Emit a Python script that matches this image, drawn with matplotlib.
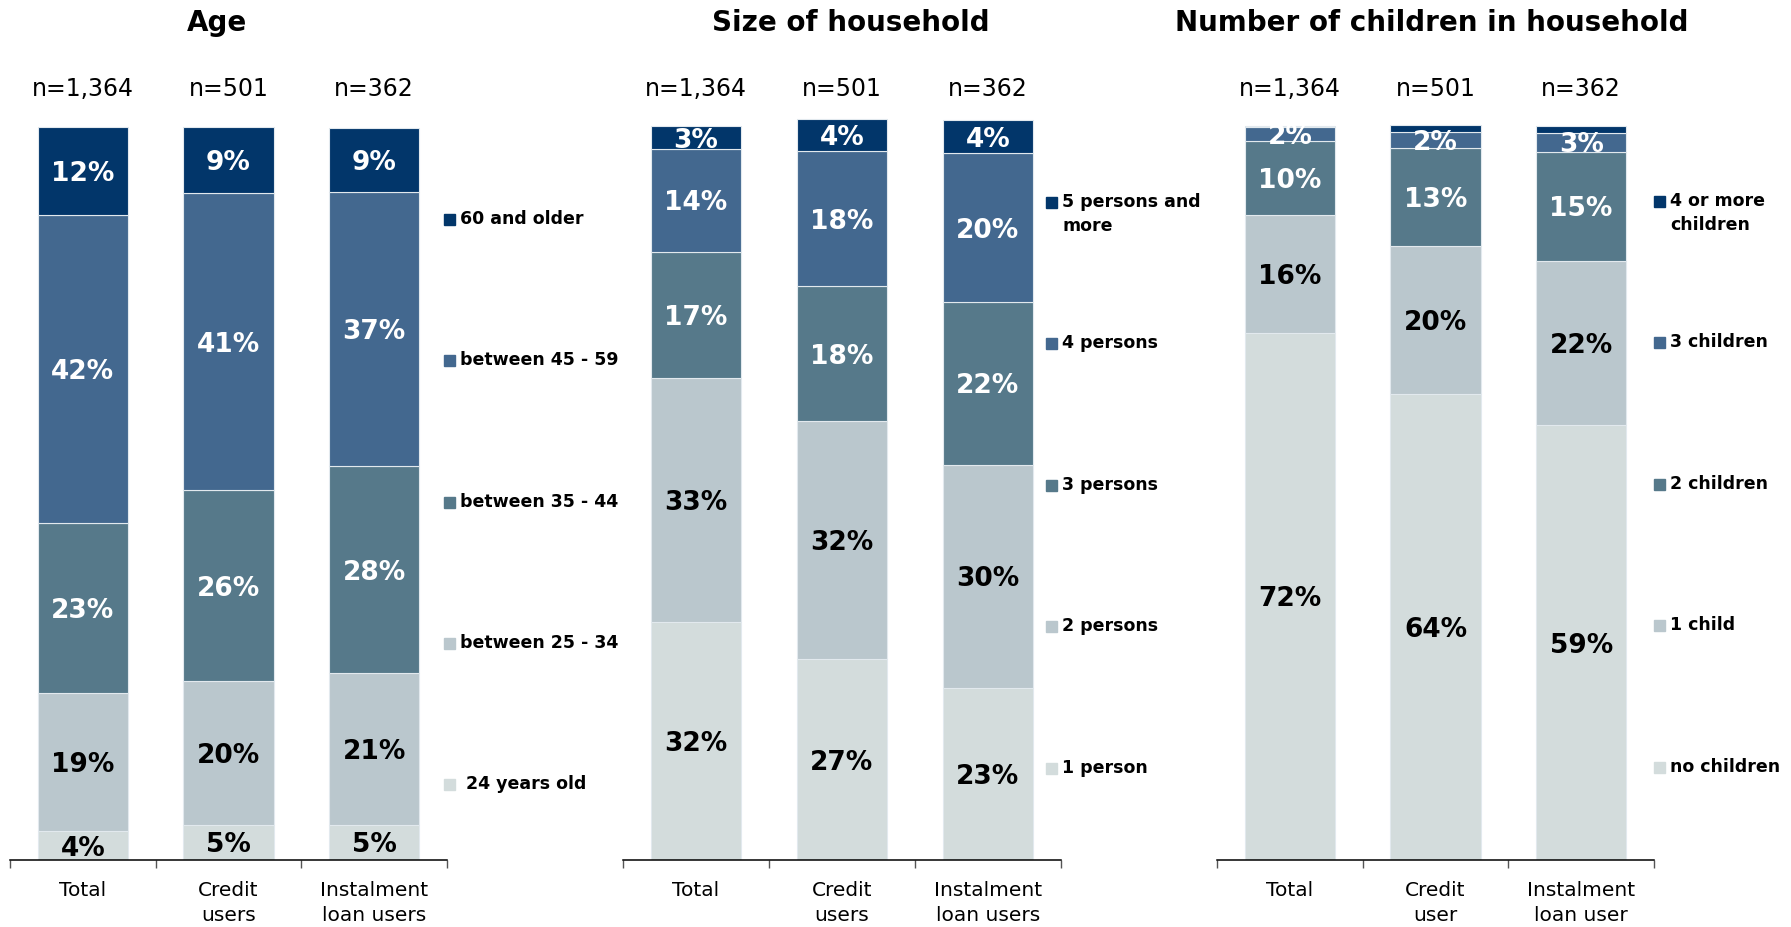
import matplotlib.pyplot as plt
from matplotlib.patches import Rectangle

# figure size in pixels
W, H = 1791, 927

# ---------------- data (percent, stacked bottom -> top)
groups_users = ["Total", "Credit\nusers", "Instalment\nloan users"]
groups_user = ["Total", "Credit\nuser", "Instalment\nloan user"]
n_labels = ["n=1,364", "n=501", "n=362"]

age_cats = [" 24 years old", "between 25 - 34", "between 35 - 44",
            "between 45 - 59", "60 and older"]
age_total = [3.9, 18.9, 23.1, 42.1, 12.0]
age_credit = [4.8, 19.6, 26.0, 40.6, 9.0]
age_instal = [4.8, 20.7, 28.2, 37.4, 8.7]

hh_cats = ["1 person", "2 persons", "3 persons", "4 persons",
           "5 persons and\nmore"]
hh_total = [32.4, 33.3, 17.2, 14.1, 3.05]
hh_credit = [27.4, 32.45, 18.4, 18.4, 4.4]
hh_instal = [23.45, 30.45, 22.2, 20.3, 4.5]

ch_cats = ["no children", "1 child", "2 children", "3 children",
           "4 or more\nchildren"]
ch_total = [71.9, 16.1, 10.0, 1.95, 0.1]
ch_credit = [63.6, 20.1, 13.4, 2.2, 0.95]
ch_instal = [59.3, 22.4, 14.9, 2.6, 0.95]

colors = ["#D3DCDC", "#BAC7CD", "#56798A", "#43688F", "#02366A"]
txt_colors = ["black", "black", "white", "white", "white"]

fig = plt.figure(figsize=(W / 100, H / 100), dpi=100)

# axes geometry (pixels)
base_px = 860
px_per_pct = 7.333
ymax = 110


def draw_panel(x0, x1, title, title_x, cats, series, xlabels,
               leg_x, leg_y0, leg_step):
    ax = fig.add_axes([x0 / W, 1 - base_px / H, (x1 - x0) / W,
                       ymax * px_per_pct / H])
    for i, vals in enumerate(series):
        b = 0
        for j, v in enumerate(vals):
            ax.bar(i, v, bottom=b, width=0.62, color=colors[j],
                   edgecolor="#E2E9EE", linewidth=0.8)
            if v >= 1.5:
                ax.text(i, b + v / 2, f"{v:.0f}%", ha="center",
                        va="center_baseline", fontsize=19,
                        fontweight="bold", color=txt_colors[j])
            b += v
        ax.text(i, 105.1, n_labels[i], ha="center", va="center",
                fontsize=17)

    ax.set_xlim(-0.5, 2.5)
    ax.set_ylim(0, ymax)
    for s in ["top", "left", "right"]:
        ax.spines[s].set_visible(False)
    ax.spines["bottom"].set_linewidth(1.1)
    ax.set_yticks([])
    ax.set_xticks([-0.5, 0.5, 1.5, 2.5])
    ax.set_xticklabels([])
    ax.tick_params(axis="x", which="major", length=6, width=1,
                   color="#555555")
    ax.set_xticks([0, 1, 2], minor=True)
    ax.set_xticklabels(xlabels, minor=True, fontsize=14.5, linespacing=1.4)
    ax.tick_params(axis="x", which="minor", length=0, pad=15)

    fig.text(title_x / W, 1 - 23 / H, title, ha="center", va="center",
             fontsize=20, fontweight="bold")

    # legend, darkest category on top
    for k, j in enumerate(range(len(cats) - 1, -1, -1)):
        y = leg_y0 + k * leg_step
        fig.add_artist(Rectangle(((leg_x - 1) / W, 1 - (y + 6) / H), 11 / W,
                                 11 / H, transform=fig.transFigure,
                                 color=colors[j]))
        fig.text((leg_x + 15) / W, 1 - (y - 9) / H, cats[j], ha="left",
                 va="top", fontsize=12.5, fontweight="bold",
                 linespacing=1.45)


draw_panel(10, 447, "Age", 217, age_cats,
           [age_total, age_credit, age_instal], groups_users,
           445, 219, 141.3)
draw_panel(623, 1061, "Size of household", 851, hh_cats,
           [hh_total, hh_credit, hh_instal], groups_users,
           1047, 202, 141.4)
draw_panel(1217, 1654, "Number of children in household", 1432, ch_cats,
           [ch_total, ch_credit, ch_instal], groups_user,
           1655, 201, 141.4)

fig.savefig("out.png", dpi=100)
